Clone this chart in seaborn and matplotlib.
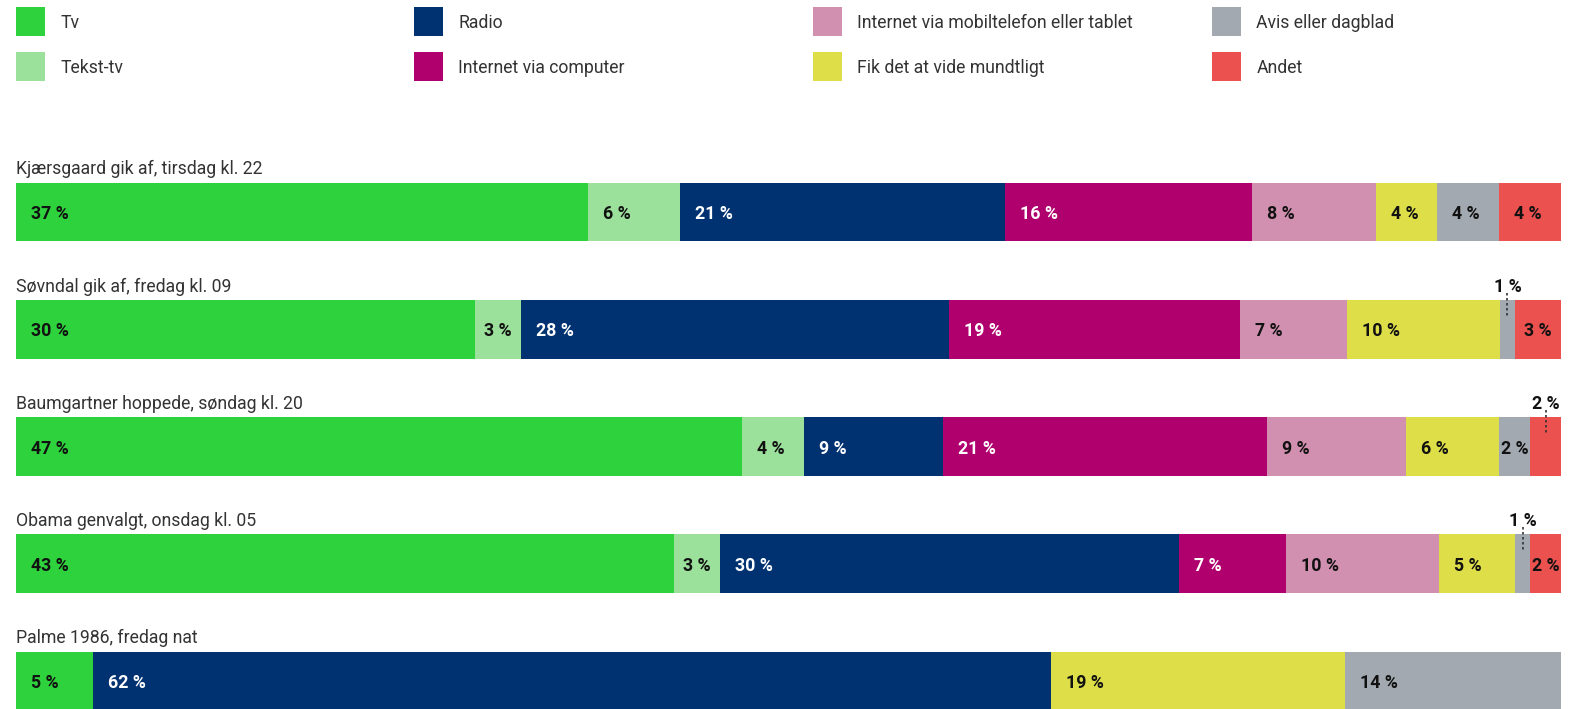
import matplotlib
matplotlib.use("Agg")
import matplotlib.pyplot as plt
from matplotlib.patches import Rectangle
import pandas as pd
import seaborn as sns

# --- data -------------------------------------------------------------
rows = [
    "Kjærsgaard gik af, tirsdag kl. 22",
    "Søvndal gik af, fredag kl. 09",
    "Baumgartner hoppede, søndag kl. 20",
    "Obama genvalgt, onsdag kl. 05",
    "Palme 1986, fredag nat",
]
series = [
    "Tv",
    "Tekst-tv",
    "Radio",
    "Internet via computer",
    "Internet via mobiltelefon eller tablet",
    "Fik det at vide mundtligt",
    "Avis eller dagblad",
    "Andet",
]
tv = [37, 30, 47, 43, 5]
tekst_tv = [6, 3, 4, 3, 0]
radio = [21, 28, 9, 30, 62]
internet_computer = [16, 19, 21, 7, 0]
internet_mobil = [8, 7, 9, 10, 0]
mundtligt = [4, 10, 6, 5, 19]
avis = [4, 1, 2, 1, 14]
andet = [4, 3, 2, 2, 0]

# --- style ------------------------------------------------------------
colors = {
    "Tv": "#2ED23C",
    "Tekst-tv": "#9BE09B",
    "Radio": "#003170",
    "Internet via computer": "#B0006E",
    "Internet via mobiltelefon eller tablet": "#D290B0",
    "Fik det at vide mundtligt": "#DEDF48",
    "Avis eller dagblad": "#A2A9B0",
    "Andet": "#EA514F",
}
white_text = {"Radio", "Internet via computer"}
# narrow segments whose value is written above the bar
callouts = {(1, "Avis eller dagblad"), (2, "Andet"), (3, "Avis eller dagblad")}

sns.set_theme(style="white")
plt.rcParams["font.family"] = ["Roboto", "DejaVu Sans"]

W, H = 1584, 709
fig = plt.figure(figsize=(W / 100, H / 100), dpi=100)
fig.patch.set_facecolor("white")

# geometry (pixels)
left_px, right_px = 16, 1561
pitch = 117.2
first_center = 212.1
bar_h = 0.5
top_px = first_center - 0.5 * pitch
ax = fig.add_axes([left_px / W, 0, (right_px - left_px) / W, 1 - top_px / H])
ylim_bottom = -0.5 + (H - top_px) / pitch

df = pd.DataFrame(
    {
        "Tv": tv,
        "Tekst-tv": tekst_tv,
        "Radio": radio,
        "Internet via computer": internet_computer,
        "Internet via mobiltelefon eller tablet": internet_mobil,
        "Fik det at vide mundtligt": mundtligt,
        "Avis eller dagblad": avis,
        "Andet": andet,
    },
    index=rows,
)[series]
shares = df.div(df.sum(axis=1), axis=0)
ends = shares.cumsum(axis=1)
starts = ends - shares

# stacked bars: draw cumulative totals from the last series to the first
for name in reversed(series):
    part = pd.DataFrame({"row": rows, "end": ends[name].values})
    sns.barplot(
        data=part, x="end", y="row", order=rows, orient="h",
        color=colors[name], width=bar_h, saturation=1, linewidth=0,
        errorbar=None, ax=ax,
    )

ax.set_xlim(0, 1)
ax.set_ylim(ylim_bottom, -0.5)
ax.axis("off")

title_size = 12.7
value_size = 12.8
half_bar_px = bar_h * pitch / 2
above_px = half_bar_px + 13.5
pad_px = 15
value_dy = -2
axes_w_px = right_px - left_px

inside_labels = []
for i, row in enumerate(rows):
    ax.annotate(row, xy=(0, i), xytext=(0, above_px),
                textcoords="offset pixels", ha="left", va="center",
                fontsize=title_size, color="#333333", annotation_clip=False)
    for name in series:
        v = df.loc[row, name]
        if v <= 0:
            continue
        txt = f"{v} %"
        if (i, name) in callouts:
            cx = starts.loc[row, name] + shares.loc[row, name] / 2
            ax.annotate(txt, xy=(cx, i), xytext=(0, above_px),
                        textcoords="offset pixels", ha="center", va="center",
                        fontsize=value_size, fontweight="bold", color="#111111",
                        annotation_clip=False)
            y0 = i - bar_h / 2 - 7 / pitch
            y1 = i - bar_h / 2 + 18 / pitch
            ax.plot([cx, cx], [y0, y1], color="#333333", lw=1.2,
                    linestyle=(0, (1.5, 1.5)), clip_on=False)
        else:
            ann = ax.annotate(txt, xy=(starts.loc[row, name], i),
                              xytext=(pad_px, value_dy),
                              textcoords="offset pixels", ha="left", va="center",
                              fontsize=value_size, fontweight="bold",
                              color="white" if name in white_text else "#111111",
                              annotation_clip=False)
            inside_labels.append((ann, shares.loc[row, name] * axes_w_px))

# in narrow segments, centre the value instead of using the full left padding
fig.canvas.draw()
renderer = fig.canvas.get_renderer()
for ann, seg_px in inside_labels:
    tw = ann.get_window_extent(renderer).width
    ann.xyann = (min(pad_px, max(1.0, (seg_px - tw) / 2)), value_dy)

# legend: four columns, two rows, filled column by column
col_x = [16, 414, 813, 1212]
row_y = [21.7, 66.2]
sq = 29.3
for k, name in enumerate(series):
    cx, cy = col_x[k // 2], row_y[k % 2]
    fig.add_artist(Rectangle((cx / W, 1 - (cy + sq / 2) / H), sq / W, sq / H,
                             transform=fig.transFigure, facecolor=colors[name],
                             edgecolor="none"))
    fig.text((cx + 44.5) / W, 1 - (cy + 1.5) / H, name, ha="left", va="center",
             fontsize=title_size, color="#333333")

fig.savefig("out.png", dpi=100, facecolor="white")
